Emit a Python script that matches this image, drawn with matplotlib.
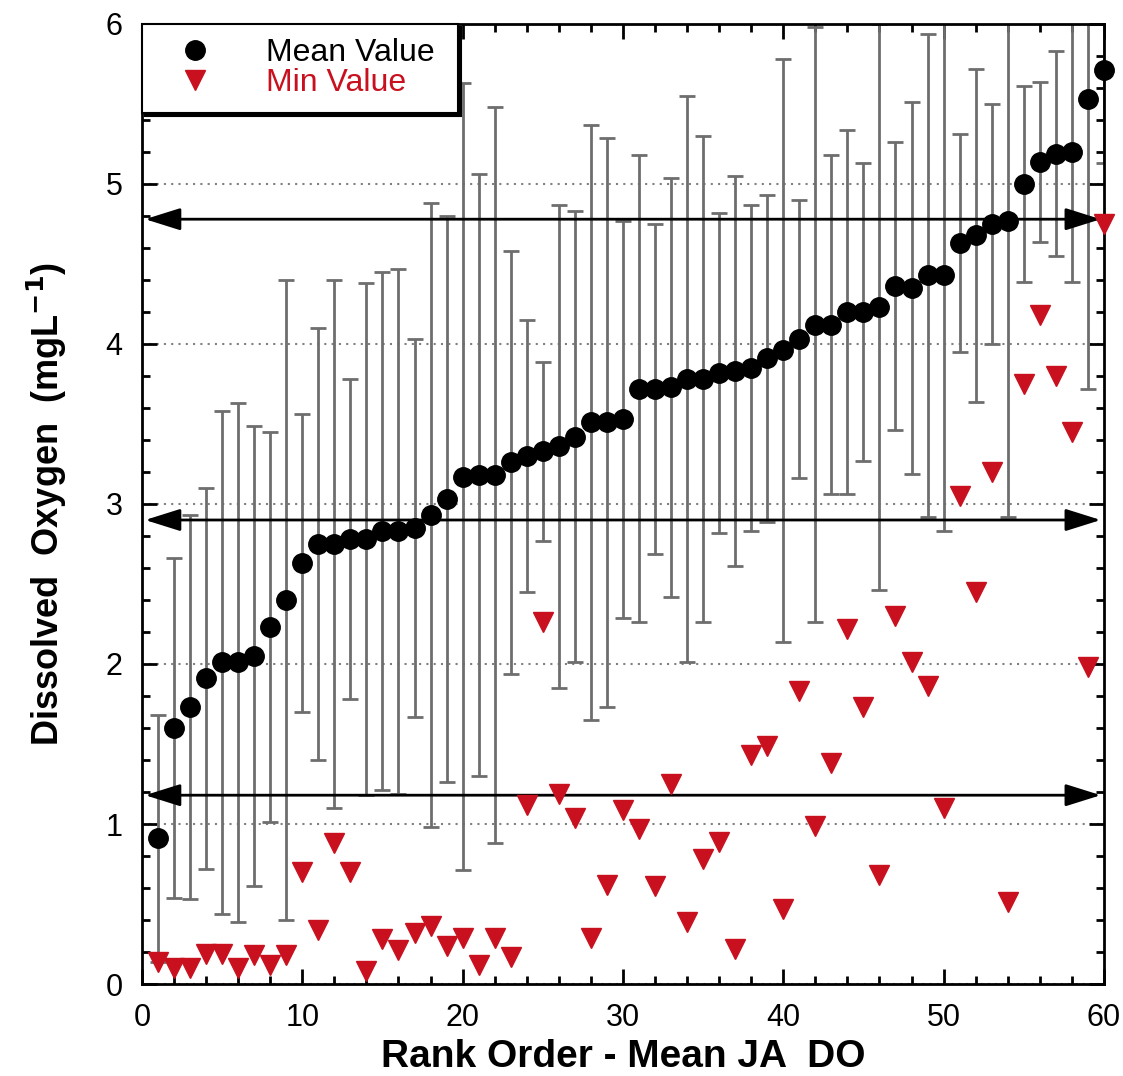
import numpy as np
import matplotlib
matplotlib.use('Agg')
import matplotlib.pyplot as plt

plt.rcParams['font.family'] = ['Liberation Sans', 'DejaVu Sans']

# rank order of the sites
rank = list(range(1, 61))

# mean dissolved oxygen per site (mg/L)
mean_do = [0.91, 1.60, 1.73, 1.91, 2.01, 2.01, 2.05, 2.23, 2.40, 2.63,
           2.75, 2.75, 2.78, 2.78, 2.83, 2.83, 2.85, 2.93, 3.03, 3.17,
           3.18, 3.18, 3.26, 3.30, 3.33, 3.36, 3.42, 3.51, 3.51, 3.53,
           3.72, 3.72, 3.73, 3.78, 3.78, 3.82, 3.83, 3.85, 3.91, 3.96,
           4.03, 4.12, 4.12, 4.20, 4.20, 4.23, 4.36, 4.35, 4.43, 4.43,
           4.63, 4.68, 4.75, 4.77, 5.00, 5.14, 5.19, 5.20, 5.53, 5.71]

# standard deviation (error bar half-length)
sd_do = [0.77, 1.06, 1.20, 1.19, 1.57, 1.62, 1.44, 1.22, 2.00, 0.93,
         1.35, 1.65, 1.00, 1.60, 1.62, 1.64, 1.18, 1.95, 1.77, 2.46,
         1.88, 2.30, 1.32, 0.85, 0.56, 1.51, 1.41, 1.86, 1.78, 1.24,
         1.46, 1.03, 1.31, 1.77, 1.52, 1.00, 1.22, 1.02, 1.02, 1.82,
         0.87, 1.86, 1.06, 1.14, 0.93, 1.77, 0.90, 1.16, 1.51, 1.60,
         0.68, 1.04, 0.75, 1.85, 0.61, 0.50, 0.64, 0.81, 1.81, 0.58]

# minimum dissolved oxygen per site
min_do = [0.14, 0.10, 0.10, 0.19, 0.19, 0.10, 0.18, 0.12, 0.18, 0.70,
          0.34, 0.88, 0.70, 0.08, 0.28, 0.21, 0.32, 0.36, 0.24, 0.29,
          0.12, 0.29, 0.17, 1.12, 2.26, 1.19, 1.04, 0.29, 0.62, 1.09,
          0.97, 0.61, 1.25, 0.39, 0.78, 0.89, 0.22, 1.43, 1.49, 0.47,
          1.83, 0.99, 1.38, 2.22, 1.73, 0.68, 2.30, 2.01, 1.86, 1.10,
          3.05, 2.45, 3.20, 0.51, 3.75, 4.18, 3.80, 3.45, 1.98, 4.75]

# reference levels drawn as double arrows
arrow_levels = [4.78, 2.90, 1.18]

red = '#c8101e'

fig = plt.figure(figsize=(11.23, 10.76), dpi=100)
ax = fig.add_axes([0.1264, 0.0855, 0.8566, 0.8922])

ax.errorbar(rank, mean_do, yerr=sd_do, fmt='none', ecolor='#6e6e6e',
            elinewidth=2, capsize=6, capthick=2, zorder=2)

for lev in arrow_levels:
    ax.annotate('', xy=(59.8, lev), xytext=(0.2, lev),
                arrowprops=dict(arrowstyle='<|-|>,head_length=0.7,head_width=0.22',
                                lw=2, color='k', mutation_scale=31,
                                shrinkA=0, shrinkB=0),
                zorder=3)

ax.plot(rank, mean_do, 'o', color='k', ms=14, clip_on=False, zorder=4,
        label='Mean Value')
ax.plot(rank, min_do, 'v', color=red, ms=15, clip_on=False, zorder=4,
        label='Min Value')

ax.set_xlim(0, 60)
ax.set_ylim(0, 6)
ax.set_xticks(np.arange(0, 61, 10))
ax.set_xticks(np.arange(0, 61, 2), minor=True)
ax.set_yticks(np.arange(0, 7, 1))
ax.set_yticks(np.arange(0, 6.01, 0.2), minor=True)
ax.tick_params(which='both', direction='in', top=True, right=True,
               width=2, labelsize=22, pad=14)
ax.tick_params(which='major', length=11)
ax.tick_params(which='minor', length=6)
for sp in ax.spines.values():
    sp.set_linewidth(2)

ax.yaxis.grid(True, linestyle=(0, (1, 2.5)), color='#808080', lw=1.5)
ax.set_axisbelow(True)

ax.set_xlabel('Rank Order - Mean JA  DO', fontsize=28, fontweight='bold',
              labelpad=4)
ax.set_ylabel('Dissolved  Oxygen  (mgL$^{\\mathbf{-1}}$)', fontsize=26,
              fontweight='bold', labelpad=26)

leg = ax.legend(loc='upper left', bbox_to_anchor=(0, 0.905, 0.3285, 0.095),
                mode='expand', borderaxespad=0, fontsize=23, frameon=True,
                fancybox=False, edgecolor='k', framealpha=1,
                handlelength=2.44, handletextpad=1.0, borderpad=0.45,
                labelspacing=0.0, shadow={'color': 'k', 'alpha': 1})
leg.get_frame().set_linewidth(1.5)
leg.get_texts()[1].set_color(red)

fig.savefig('out.png', dpi=100)
